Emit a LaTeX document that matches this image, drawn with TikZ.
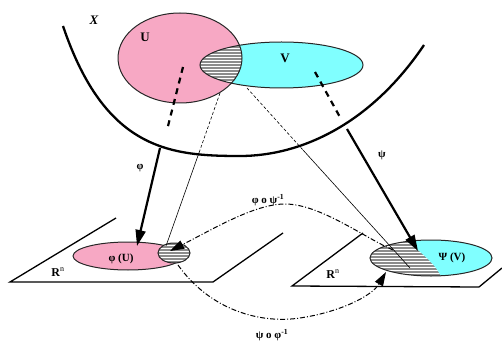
\documentclass[tikz,border=0pt]{standalone}
\usepackage{fontspec}
\setmainfont{Liberation Serif}
\usetikzlibrary{arrows.meta}
\definecolor{pinkU}{RGB}{247,168,196}
\definecolor{cyanV}{RGB}{128,255,255}
\definecolor{hatchg}{RGB}{140,140,140}
\tikzset{
  outline/.style={draw=black!85, line width=1pt},
  bigarrow/.style={line width=2.2pt, -{Triangle[length=16pt,width=10pt]}},
  thickdash/.style={line width=2.2pt, dash pattern=on 6pt off 5pt},
  thinline/.style={line width=0.6pt},
  thindash/.style={line width=0.6pt, dash pattern=on 3pt off 2pt},
  mapcurve/.style={line width=1pt, dash pattern=on 5pt off 2pt on 1pt off 2pt, -{Triangle[length=14pt,width=9pt]}},
  planeline/.style={line width=1.3pt},
  lbl/.style={inner sep=0pt, font=\fontsize{11}{13}\selectfont\bfseries},
  biglbl/.style={inner sep=0pt, font=\fontsize{13}{15}\selectfont\bfseries},
}
\begin{document}
\begin{tikzpicture}[x=1pt,y=-1pt]
\useasboundingbox (0,0) rectangle (502,355);
% centers
\coordinate (U) at (180,58);
\coordinate (V) at (281.5,65);
\coordinate (PU) at (128,256);
\coordinate (PUh) at (174,253);
\coordinate (PV) at (431,258);
% manifold curve X
\coordinate (X1) at (63,26);
\coordinate (X2) at (240,156);
\coordinate (X3) at (424,45);
\draw[line width=2.3pt] (X1) .. controls (105,150) and (170,156) .. (X2)
  .. controls (300,156) and (370,125) .. (X3);
\node[inner sep=0pt, font=\fontsize{13}{15}\selectfont\bfseries\itshape] (Xl) at (94,20) {X};
% U and V
\fill[pinkU] (U) ellipse [x radius=62pt, y radius=45pt];
\fill[cyanV] (V) ellipse [x radius=81.5pt, y radius=23pt];
\begin{scope}
  \clip (U) ellipse [x radius=62pt, y radius=45pt];
  \clip (V) ellipse [x radius=81.5pt, y radius=23pt];
  \fill[hatchg] (190,35) rectangle (250,95);
  \foreach \yy in {43,46,...,92} \draw[white, line width=1pt] (190,\yy) -- (250,\yy);
\end{scope}
\draw[outline] (U) ellipse [x radius=62pt, y radius=45pt];
\draw[outline] (V) ellipse [x radius=81.5pt, y radius=23pt];
\node[biglbl] (Ul) at (145,37) {U};
\node[biglbl] (Vl) at (285,58) {V};
% planes
\coordinate (L1) at (10,282);
\coordinate (L2) at (116,218);
\coordinate (L3) at (213,282);
\coordinate (L4) at (283,233);
\draw[planeline] (L2) -- (L1) -- (L3) -- (L4);
\coordinate (R1) at (292,286);
\coordinate (R2) at (363,233);
\coordinate (R3) at (479,287);
\coordinate (R4) at (502,268);
\draw[planeline] (R2) -- (R1) -- (R3) -- (R4);
\node[inner sep=0pt, font=\fontsize{12}{14}\selectfont] (Rl) at (58,272) {\textbf{R}\textsuperscript{n}};
\node[inner sep=0pt, font=\fontsize{12}{14}\selectfont] (Rr) at (333,274) {\textbf{R}\textsuperscript{n}};
% phi(U)
\fill[pinkU] (PU) ellipse [x radius=55pt, y radius=14pt];
\draw[outline] (PU) ellipse [x radius=55pt, y radius=14pt];
\begin{scope}
  \clip (PUh) ellipse [x radius=16pt, y radius=10pt];
  \fill[hatchg] (155,240) rectangle (195,265);
  \foreach \yy in {245,248,...,263} \draw[white, line width=1pt] (155,\yy) -- (195,\yy);
\end{scope}
\draw[outline] (PUh) ellipse [x radius=16pt, y radius=10pt];
\node[lbl] (PUl) at (121,259) {φ (U)};
% psi(V)
\begin{scope}
  \clip (PV) ellipse [x radius=61pt, y radius=18pt];
  \fill[hatchg] (365,235) rectangle (495,280);
  \foreach \yy in {243,246,...,276} \draw[white, line width=1pt] (365,\yy) -- (495,\yy);
  \fill[cyanV] (403,238) .. controls (416,248) and (428,258) .. (436,268) -- (445,282) -- (495,282) -- (495,235) -- cycle;
\end{scope}
\draw[outline] (PV) ellipse [x radius=61pt, y radius=18pt];
\node[lbl] (PVl) at (452,258) {Ψ (V)};
% chart maps phi and psi
\coordinate (a1) at (183,67);
\coordinate (a2) at (167,130);
\coordinate (a3) at (160,148);
\coordinate (a4) at (137,246);
\draw[thickdash] (a1) -- (a2);
\draw[bigarrow] (a3) -- (a4);
\node[lbl] (phil) at (140,168) {φ};
\coordinate (b1) at (315,72);
\coordinate (b2) at (341,119);
\coordinate (b3) at (347,129);
\coordinate (b4) at (418,251);
\draw[thickdash] (b1) -- (b2);
\draw[bigarrow] (b3) -- (b4);
\node[lbl] (psil) at (382,155) {ψ};
% thin projection lines
\coordinate (c1) at (220,93);
\coordinate (c2) at (200,150);
\coordinate (c3) at (166,246);
\draw[thindash] (c1) -- (c2);
\draw[thinline] (c2) -- (c3);
\coordinate (d1) at (247,88);
\coordinate (d2) at (303,150);
\coordinate (d3) at (410,268);
\draw[thindash] (d1) -- (d2);
\draw[thinline] (d2) -- (d3);
% transition maps
\coordinate (e1) at (393,250);
\coordinate (e2) at (285,204);
\coordinate (e3) at (170,251);
\draw[mapcurve] (e1) .. controls (365,238) and (320,204) .. (e2)
  .. controls (255,204) and (215,228) .. (e3);
\node[lbl] (tl1) at (268,200) {φ o ψ\textsuperscript{-1}};
\coordinate (f1) at (178,265);
\coordinate (f2) at (300,318);
\coordinate (f3) at (386,272);
\draw[mapcurve] (f1) .. controls (210,310) and (260,324) .. (f2)
  .. controls (340,312) and (372,296) .. (f3);
\node[lbl] (tl2) at (272,335) {ψ o φ\textsuperscript{-1}};
\end{tikzpicture}
\end{document}
